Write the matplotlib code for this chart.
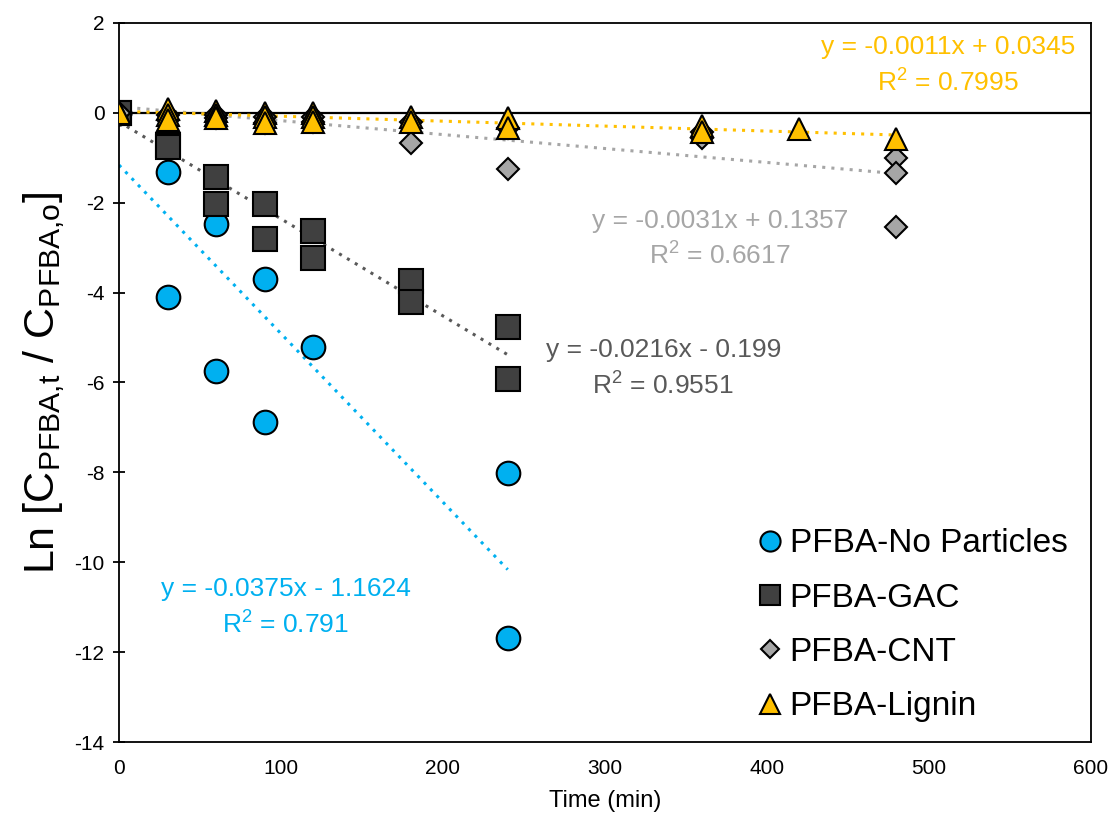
import matplotlib
matplotlib.use("Agg")
import matplotlib.pyplot as plt
from matplotlib.lines import Line2D

plt.rcParams["font.family"] = ["Liberation Sans", "DejaVu Sans"]
plt.rcParams["mathtext.default"] = "regular"
plt.rcParams["axes.unicode_minus"] = False

# PFBA degradation, ln(Ct/C0) against time (min)
t_np = [0, 0, 30, 30, 60, 60, 90, 90, 120, 240, 240]
y_np = [0, 0, -1.31, -4.10, -2.47, -5.75, -3.70, -6.88, -5.21, -8.02, -11.69]

t_gac = [0, 0, 30, 30, 60, 60, 90, 90, 120, 120, 180, 180, 240, 240]
y_gac = [0, 0, -0.72, -0.75, -1.43, -2.03, -2.03, -2.81, -2.63, -3.22, -3.74, -4.22, -4.76, -5.93]

t_cnt = [0, 0, 30, 30, 60, 60, 90, 90, 120, 120, 180, 180, 240, 240, 360, 360, 480, 480, 480]
y_cnt = [0, 0, -0.05, -0.15, -0.05, -0.12, -0.10, -0.22, -0.10, -0.20, -0.20, -0.68,
         -0.34, -1.25, -0.43, -0.55, -1.00, -1.34, -2.54]

t_lig = [0, 0, 30, 30, 30, 60, 60, 60, 90, 90, 90, 120, 120, 120, 180, 180, 240, 240,
         360, 360, 420, 480]
y_lig = [0, 0, 0.08, -0.05, -0.15, 0.05, -0.05, -0.12, 0.0, -0.10, -0.22, 0.0, -0.10, -0.20,
         -0.10, -0.20, -0.12, -0.34, -0.29, -0.43, -0.36, -0.58]

# linear fits: slope, intercept, R2, x range end
fit_np = (-0.0375, -1.1624, 0.791, 240)
fit_gac = (-0.0216, -0.199, 0.9551, 240)
fit_cnt = (-0.0031, 0.1357, 0.6617, 480)
fit_lig = (-0.0011, 0.0345, 0.7995, 480)

labels = ["PFBA-No Particles", "PFBA-GAC", "PFBA-CNT", "PFBA-Lignin"]

c_blue = "#00B0F0"
c_dark = "#404040"
c_gray = "#A6A6A6"
c_gold = "#FFC000"

fig = plt.figure(figsize=(11.12, 8.19), dpi=100)
ax = fig.add_axes([0.107, 0.094, 0.874, 0.878])

ax.axhline(0, color="black", lw=1.6, zorder=1)

ax.plot(t_np, y_np, "o", ms=17, mfc=c_blue, mec="black", mew=1.5, zorder=3)
ax.plot(t_gac, y_gac, "s", ms=17, mfc=c_dark, mec="black", mew=1.5, zorder=4)
ax.plot(t_cnt, y_cnt, "D", ms=11.5, mfc=c_gray, mec="black", mew=1.5, zorder=5)
ax.plot(t_lig, y_lig, "^", ms=16, mfc=c_gold, mec="black", mew=1.5, zorder=6)


def trend(fit, color, tx, ty):
    m, b, r2, xend = fit
    ax.plot([0, xend], [b, m * xend + b], color=color, lw=2.2,
            ls=(0, (1, 2)), zorder=2)
    sign = "-" if b < 0 else "+"
    txt = "y = %gx %s %g\nR$^2$ = %g" % (m, sign, abs(b), r2)
    ax.text(tx, ty, txt, color=color, fontsize=19, ha="center", va="center",
            linespacing=1.45, zorder=7)


trend(fit_np, c_blue, 103, -11.02)
trend(fit_gac, "#595959", 336, -5.70)
trend(fit_cnt, c_gray, 371, -2.81)
trend(fit_lig, c_gold, 512, 1.04)

ax.set_xlim(0, 600)
ax.set_ylim(-14, 2)
ax.set_xticks(range(0, 601, 100))
ax.set_yticks(range(-14, 3, 2))
ax.tick_params(axis="x", length=0, pad=12, labelsize=15)
ax.tick_params(axis="y", direction="inout", length=9, width=1.3, pad=6, labelsize=15)
for s in ax.spines.values():
    s.set_color("black")
    s.set_linewidth(1.3)

ax.set_xlabel("Time (min)", fontsize=17, labelpad=9)
ax.set_ylabel(r"Ln [C$_{PFBA{,}t}$ / C$_{PFBA{,}o}$]", fontsize=31, labelpad=5)

handles = [
    Line2D([], [], ls="none", marker="o", ms=14.5, mfc=c_blue, mec="black", mew=1.5),
    Line2D([], [], ls="none", marker="s", ms=14, mfc=c_dark, mec="black", mew=1.5),
    Line2D([], [], ls="none", marker="D", ms=9, mfc=c_gray, mec="black", mew=1.5),
    Line2D([], [], ls="none", marker="^", ms=14, mfc=c_gold, mec="black", mew=1.5),
]
ax.legend(handles, labels, loc="lower right", bbox_to_anchor=(1.0, -0.005),
          frameon=False, fontsize=24, handlelength=0.8, handletextpad=0.2,
          labelspacing=0.7, borderaxespad=0.3)

fig.savefig("out.png", dpi=100)
